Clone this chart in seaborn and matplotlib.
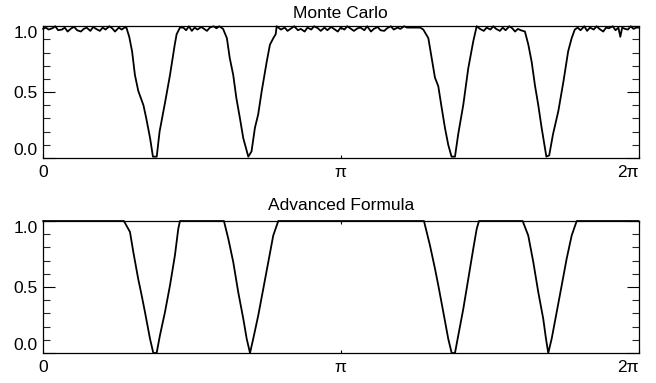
import numpy as np
import pandas as pd
import matplotlib
matplotlib.use("Agg")
import matplotlib.pyplot as plt
import matplotlib.ticker as mtick
import seaborn as sns

# Monte Carlo curve (x in radians)
mc_x = [0.00, 0.03, 0.06, 0.10, 0.13, 0.16, 0.20, 0.23, 0.26, 0.30, 0.33, 0.36, 0.40, 0.43,
        0.46, 0.50, 0.53, 0.56, 0.60, 0.63, 0.66, 0.70, 0.73, 0.76, 0.80, 0.83, 0.86,
        0.88, 0.91, 0.94, 0.97, 1.005, 1.06, 1.09, 1.13, 1.16, 1.20, 1.23, 1.29, 1.34, 1.39,
        1.41, 1.445,
        1.48, 1.51, 1.54, 1.57, 1.60, 1.63, 1.67, 1.70, 1.73, 1.76, 1.80, 1.83, 1.86, 1.90,
        1.94, 1.97, 2.007, 2.04, 2.078, 2.113, 2.166, 2.20, 2.236, 2.27, 2.307, 2.36, 2.394,
        2.43, 2.455, 2.465,
        2.51, 2.55, 2.58, 2.62, 2.65, 2.69, 2.72, 2.76, 2.79, 2.83, 2.86, 2.90, 2.93, 2.97,
        3.00, 3.04, 3.07, 3.11, 3.14, 3.18, 3.21, 3.25, 3.28, 3.32, 3.35, 3.39, 3.42, 3.46,
        3.49, 3.53, 3.56, 3.60, 3.63, 3.67, 3.70, 3.74, 3.77, 3.81, 3.84, 3.88, 3.91, 3.95,
        3.98, 4.012,
        4.065, 4.10, 4.135, 4.17, 4.206, 4.24, 4.275, 4.31, 4.346, 4.38, 4.434, 4.486, 4.539,
        4.575,
        4.61, 4.65, 4.68, 4.72, 4.75, 4.78, 4.82, 4.85, 4.88, 4.92, 4.95, 4.98, 5.01, 5.04,
        5.084, 5.12, 5.155, 5.19, 5.225, 5.26, 5.295, 5.31, 5.34, 5.38, 5.436, 5.49, 5.54,
        5.577, 5.61,
        5.64, 5.67, 5.71, 5.74, 5.77, 5.81, 5.84, 5.87, 5.91, 5.94, 5.97, 6.01, 6.04, 6.07,
        6.09, 6.11, 6.14, 6.17, 6.20, 6.23, 6.26, 6.283]
mc_y = [0.98, 0.99, 0.975, 0.985, 1.00, 0.97, 0.975, 0.99, 0.96, 0.985, 0.995, 0.97, 0.96, 0.98,
        0.99, 0.965, 0.995, 0.98, 0.965, 0.99, 0.975, 1.00, 0.985, 0.96, 0.99, 0.975, 0.99,
        0.99, 0.92, 0.81, 0.63, 0.51, 0.40, 0.30, 0.15, 0.01, 0.01, 0.20, 0.43, 0.63, 0.86,
        0.94, 0.99,
        0.99, 0.97, 1.00, 0.965, 0.99, 0.975, 0.995, 0.98, 0.965, 0.99, 1.00, 0.985, 1.00, 0.98,
        0.91, 0.76, 0.63, 0.455, 0.30, 0.15, 0.01, 0.05, 0.23, 0.33, 0.506, 0.73, 0.86,
        0.91, 0.94, 1.00,
        0.975, 0.99, 0.965, 0.985, 1.00, 0.97, 0.98, 0.96, 0.99, 0.975, 1.00, 0.985, 0.965, 0.99,
        0.97, 0.995, 0.98, 0.96, 0.99, 0.975, 1.00, 0.98, 0.965, 0.985, 0.99, 0.97, 1.00, 0.96,
        0.98, 0.995, 0.97, 0.965, 0.985, 1.00, 0.975, 0.99, 0.98, 1.00, 0.99, 0.99, 0.99, 0.99,
        0.99, 0.975,
        0.91, 0.76, 0.61, 0.545, 0.38, 0.23, 0.10, 0.01, 0.01, 0.18, 0.405, 0.68, 0.886,
        1.00,
        0.98, 0.965, 0.99, 0.975, 1.00, 0.98, 0.965, 0.99, 0.97, 1.00, 0.985, 0.96, 0.98, 0.97,
        0.96, 0.86, 0.73, 0.55, 0.40, 0.23, 0.076, 0.01, 0.02, 0.18, 0.355, 0.58, 0.81,
        0.91, 0.975,
        0.99, 0.97, 1.00, 0.965, 0.99, 0.975, 1.00, 0.98, 0.96, 0.99, 0.985, 1.00, 0.97, 0.99,
        0.92, 0.99, 0.98, 0.975, 1.00, 0.98, 0.99, 0.99]

# Advanced formula curve
af_x = [0.00, 0.854, 0.918, 0.953, 1.005, 1.041, 1.076, 1.129, 1.164, 1.199, 1.234, 1.287,
        1.340, 1.392, 1.427, 1.445,
        1.909, 1.955, 2.007, 2.060, 2.113, 2.149, 2.184, 2.218, 2.271, 2.324, 2.377, 2.429,
        2.482,
        4.019, 4.082, 4.135, 4.170, 4.223, 4.275, 4.311, 4.346, 4.381, 4.434, 4.486, 4.539,
        4.575, 4.599,
        5.060, 5.119, 5.172, 5.225, 5.277, 5.306, 5.330, 5.366, 5.419, 5.472, 5.524, 5.577,
        5.630, 6.283]
af_y = [1.00, 1.00, 0.917, 0.765, 0.56, 0.437, 0.31, 0.108, 0.00, 0.00, 0.134, 0.31,
        0.513, 0.74, 0.94, 1.00,
        1.00, 0.866, 0.69, 0.46, 0.26, 0.108, 0.00, 0.108, 0.285, 0.487, 0.69, 0.89,
        1.00,
        1.00, 0.816, 0.64, 0.513, 0.31, 0.108, 0.00, 0.00, 0.134, 0.335, 0.56, 0.79,
        0.94, 1.00,
        1.00, 0.89, 0.69, 0.46, 0.26, 0.108, 0.00, 0.108, 0.31, 0.513, 0.714, 0.89,
        1.00, 1.00]

titles = ["Monte Carlo", "Advanced Formula"]
x_ticks = [0, np.pi, 2 * np.pi]
x_labels = ["0", "\u03c0", "2\u03c0"]

sns.set_style("white")
plt.rcParams['font.family'] = ['Liberation Sans', 'DejaVu Sans']

fig = plt.figure(figsize=(6.56, 3.83), dpi=100)
ax1 = fig.add_axes([0.0655, 0.5875, 0.908, 0.3439])
ax2 = fig.add_axes([0.0655, 0.0783, 0.908, 0.3446])

curves = [pd.DataFrame({"x": mc_x, "y": mc_y}), pd.DataFrame({"x": af_x, "y": af_y})]
pads = [6, 8]

for ax, df, title, pad in zip([ax1, ax2], curves, titles, pads):
    sns.lineplot(data=df, x="x", y="y", ax=ax, color="black", linewidth=1.3,
                 sort=False, estimator=None)
    for ln in ax.lines:
        ln.set_clip_on(False)
        ln.set_zorder(5)
    ax.set_xlim(0, 2 * np.pi)
    ax.set_ylim(0, 1.0)
    ax.set_xlabel("")
    ax.set_ylabel("")
    ax.set_title(title, fontsize=12.5, pad=pad, color="black")
    for s in ax.spines.values():
        s.set_visible(True)
        s.set_color("black")
        s.set_linewidth(0.9)
    ax.set_xticks(x_ticks)
    ax.set_xticklabels(x_labels)
    ax.set_yticks([0, 0.5, 1.0])
    ax.set_yticklabels(["0.0", "0.5", "1.0"])
    ax.yaxis.set_minor_locator(mtick.MultipleLocator(0.1))
    ax.tick_params(axis="y", which="major", direction="in", length=8.5, width=0.8,
                   left=True, right=True, labelsize=12.5, pad=4, colors="black")
    ax.tick_params(axis="y", which="minor", direction="in", length=5, width=0.8,
                   left=True, right=True)
    ax.tick_params(axis="x", which="major", direction="in", length=2.5, width=0.8,
                   bottom=True, top=True, labelsize=12.5, pad=5, colors="black")
    ylabs = ax.get_yticklabels()
    ylabs[0].set_va("bottom")
    ylabs[2].set_va("top")
    xlabs = ax.get_xticklabels()
    xlabs[2].set_ha("right")
    ax.grid(False)

fig.savefig("out.png", dpi=100, facecolor="white")
